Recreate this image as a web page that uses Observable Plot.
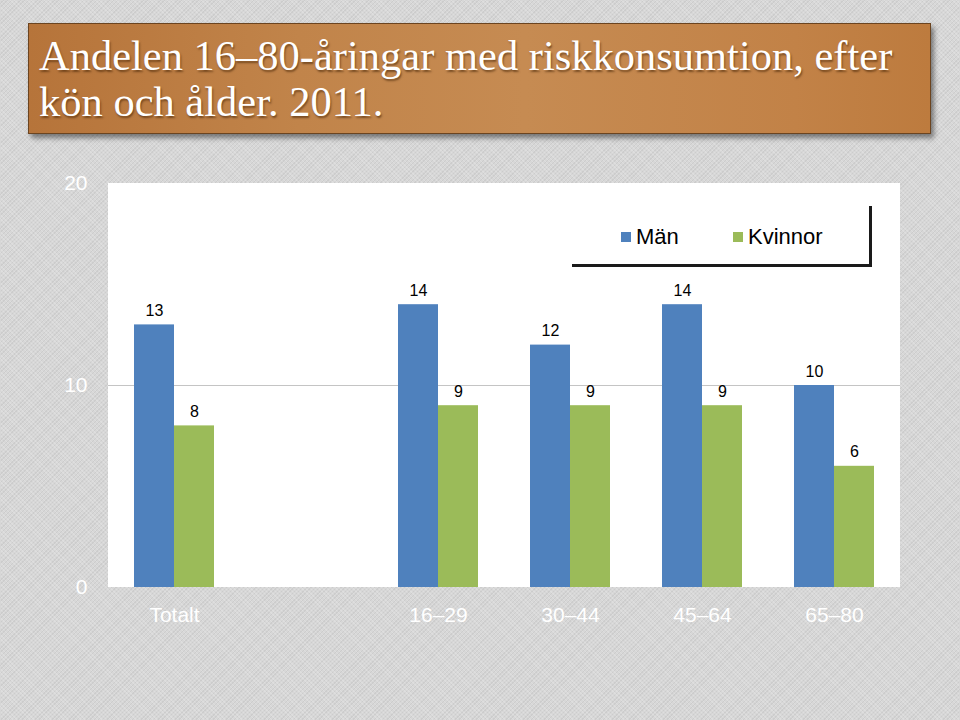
<!DOCTYPE html>
<html><head><meta charset="utf-8">
<script src="https://cdn.jsdelivr.net/npm/d3@7"></script>
<script src="https://cdn.jsdelivr.net/npm/@observablehq/plot@0.6"></script>
<style>
html,body{margin:0;padding:0;}
body{width:960px;height:720px;position:relative;overflow:hidden;
 background-color:#d7d7d7;
 background-image:
  repeating-linear-gradient(45deg, rgba(255,255,255,0.18) 0 1px, rgba(0,0,0,0) 1px 3px),
  repeating-linear-gradient(-45deg, rgba(0,0,0,0.05) 0 1px, rgba(0,0,0,0) 1px 3px);}
#title{position:absolute;left:28px;top:23px;width:903px;height:111px;box-sizing:border-box;
 background:linear-gradient(90deg,#b6743a 0%,#c1844a 30%,#c68b52 55%,#c28247 85%,#bd7b3e 100%);
 border:1px solid #6b4420;box-shadow:3px 4px 5px rgba(0,0,0,0.45);
 color:#fff;font-family:"Liberation Serif","Times New Roman",serif;font-size:42.5px;line-height:46px;
 text-shadow:1px 2px 2px rgba(60,30,0,0.55);
 padding:9px 0 0 10px;z-index:2;}
#chart{position:absolute;left:0;top:0;z-index:1;}
#legend{position:absolute;left:572px;top:206px;width:300px;height:61px;box-sizing:border-box;
 border-right:3px solid #1a1a1a;border-bottom:3px solid #1a1a1a;z-index:3;
 font-family:"Liberation Sans",Arial,sans-serif;font-size:22px;color:#000;}
#legend .it{position:absolute;top:18px;display:flex;align-items:center;}
#legend .sw{width:10px;height:10px;margin-right:5px;}
</style></head>
<body>
<div id="title">Andelen 16–80-åringar med riskkonsumtion, efter<br>kön och ålder. 2011.</div>
<div id="chart"></div>
<div id="legend"></div>
<script>
const categories = ["Totalt", "", "16–29", "30–44", "45–64", "65–80"];
const series = ["Män", "Kvinnor"];
const colors = ["#4F81BD", "#9BBB59"];
const manValues = [13, null, 14, 12, 14, 10];
const kvinnorValues = [8, null, 9, 9, 9, 6];
const yTicks = [0, 10, 20];
const yMax = 20;

const data = [];
categories.forEach((c, i) => {
  if (manValues[i] != null) data.push({cat: c, sex: "Män", value: manValues[i]});
  if (kvinnorValues[i] != null) data.push({cat: c, sex: "Kvinnor", value: kvinnorValues[i]});
});

const font = "Liberation Sans, Arial, sans-serif";
const chart = Plot.plot({
  width: 960, height: 720,
  marginTop: 183, marginBottom: 133, marginLeft: 108, marginRight: 60,
  style: {background: "transparent", fontFamily: font},
  fx: {domain: categories, padding: 0, label: null},
  x: {domain: series, paddingInner: 0, paddingOuter: 0.61, axis: null},
  y: {domain: [0, yMax], axis: null},
  color: {domain: series, range: colors},
  marks: [
    // white plot background, one piece per category so every facet (even the empty one) exists
    Plot.rectY(categories, {fx: d => d, y1: () => 0, y2: () => yMax, fill: "white"}),
    Plot.ruleY([10], {stroke: "#c4c4c4", strokeWidth: 1}),
    Plot.barY(data, {fx: "cat", x: "sex", y: "value", fill: "sex"}),
    Plot.text(data, {fx: "cat", x: "sex", y: "value", text: d => String(d.value),
      dy: -9, lineAnchor: "bottom", fontSize: 16, fill: "#000", fontFamily: font}),
    Plot.axisY({ticks: yTicks, tickSize: 0, tickPadding: 21, fontSize: 21, fill: "#fff",
      fontFamily: font, label: null}),
    Plot.axisFx({anchor: "bottom", tickSize: 0, tickPadding: 20, fontSize: 21, fill: "#fff",
      fontFamily: font, label: null, tickFormat: d => d})
  ]
});
document.getElementById("chart").appendChild(chart);

const legend = document.getElementById("legend");
const legendLeft = [49, 161];
series.forEach((s, i) => {
  const it = document.createElement("div");
  it.className = "it";
  it.style.left = legendLeft[i] + "px";
  it.innerHTML = `<span class="sw" style="background:${colors[i]}"></span><span>${s}</span>`;
  legend.appendChild(it);
});
</script>
</body></html>
